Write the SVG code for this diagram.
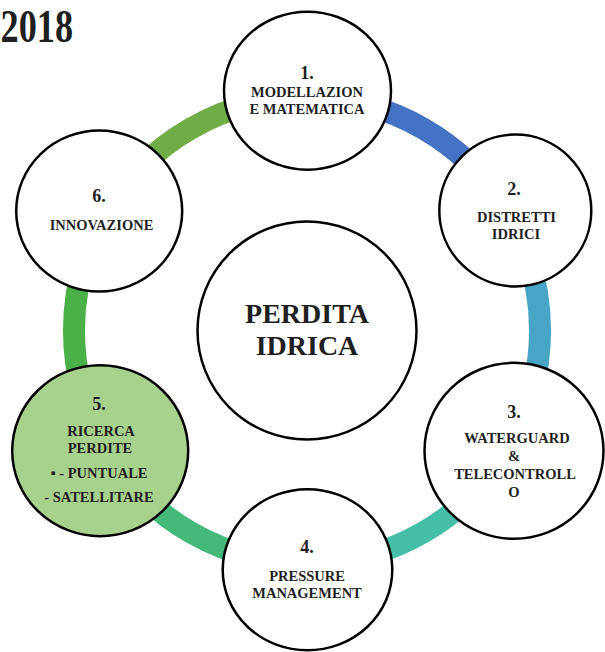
<svg xmlns="http://www.w3.org/2000/svg" width="605" height="652" viewBox="0 0 605 652">
<style>
.ring{fill:none;stroke-width:22}
.node{fill:#fff;stroke:#000;stroke-width:2.5}
.t{font-family:"Liberation Serif","Times New Roman",serif;font-weight:bold;fill:#1f1f1f;text-anchor:middle}
.num{font-size:18px}
.lbl{font-size:14.5px}
.big{font-size:28px}
</style>
<rect width="605" height="652" fill="#fff"/>
<text class="t" x="0.5" y="41.7" font-size="46" textLength="72.5" lengthAdjust="spacingAndGlyphs" style="text-anchor:start">2018</text>
<g id="connectors">
<path class="ring" stroke="#4472C4" d="M307 97.5 A233 233 0 0 1 508.8 214"/>
<path class="ring" stroke="#47A5C5" d="M508.8 214 A233 233 0 0 1 508.8 447"/>
<path class="ring" stroke="#46BFA8" d="M508.8 447 A233 233 0 0 1 307 563.5"/>
<path class="ring" stroke="#45B97A" d="M307 563.5 A233 233 0 0 1 105.2 447"/>
<path class="ring" stroke="#49B148" d="M105.2 447 A233 233 0 0 1 105.2 214"/>
<path class="ring" stroke="#70AD47" d="M105.2 214 A233 233 0 0 1 307 97.5"/>
</g>
<g id="center">
<ellipse class="node" cx="307" cy="330.5" rx="109.5" ry="109"/>
<text class="t big" x="307" y="322.7">PERDITA</text>
<text class="t big" x="307" y="355">IDRICA</text>
</g>
<g id="node1">
<ellipse class="node" cx="307.5" cy="90.7" rx="83.5" ry="79"/>
<text class="t num" x="307" y="79">1.</text>
<text class="t lbl" x="307" y="96.7">MODELLAZION</text>
<text class="t lbl" x="307" y="114">E MATEMATICA</text>
</g>
<g id="node2">
<ellipse class="node" cx="515.3" cy="210.5" rx="76" ry="76"/>
<text class="t num" x="514" y="195">2.</text>
<text class="t lbl" x="516.5" y="221.7">DISTRETTI</text>
<text class="t lbl" x="516" y="239.3">IDRICI</text>
</g>
<g id="node3">
<ellipse class="node" cx="514" cy="450.8" rx="89.5" ry="88"/>
<text class="t num" x="514" y="418.3">3.</text>
<text class="t lbl" x="517" y="442.7">WATERGUARD</text>
<text class="t lbl" x="514" y="460.7">&amp;</text>
<text class="t lbl" x="515" y="479.3">TELECONTROLL</text>
<text class="t lbl" x="514" y="496.7">O</text>
</g>
<g id="node4">
<ellipse class="node" cx="307.5" cy="569.8" rx="84.8" ry="80.5"/>
<text class="t num" x="307" y="553.3">4.</text>
<text class="t lbl" x="307" y="580.7">PRESSURE</text>
<text class="t lbl" x="307" y="598.3">MANAGEMENT</text>
</g>
<g id="node5">
<ellipse class="node" cx="100.2" cy="450.7" rx="88" ry="85.5" style="fill:#A9D18E"/>
<text class="t num" x="99" y="410">5.</text>
<text class="t lbl" x="101" y="435.7">RICERCA</text>
<text class="t lbl" x="100" y="453.3">PERDITE</text>
<text class="t lbl" x="99" y="478.3">▪ - PUNTUALE</text>
<text class="t lbl" x="99" y="502.3">- SATELLITARE</text>
</g>
<g id="node6">
<ellipse class="node" cx="99.2" cy="211" rx="83" ry="80.5"/>
<text class="t num" x="99" y="201.7">6.</text>
<text class="t lbl" x="101.5" y="230">INNOVAZIONE</text>
</g>
</svg>
